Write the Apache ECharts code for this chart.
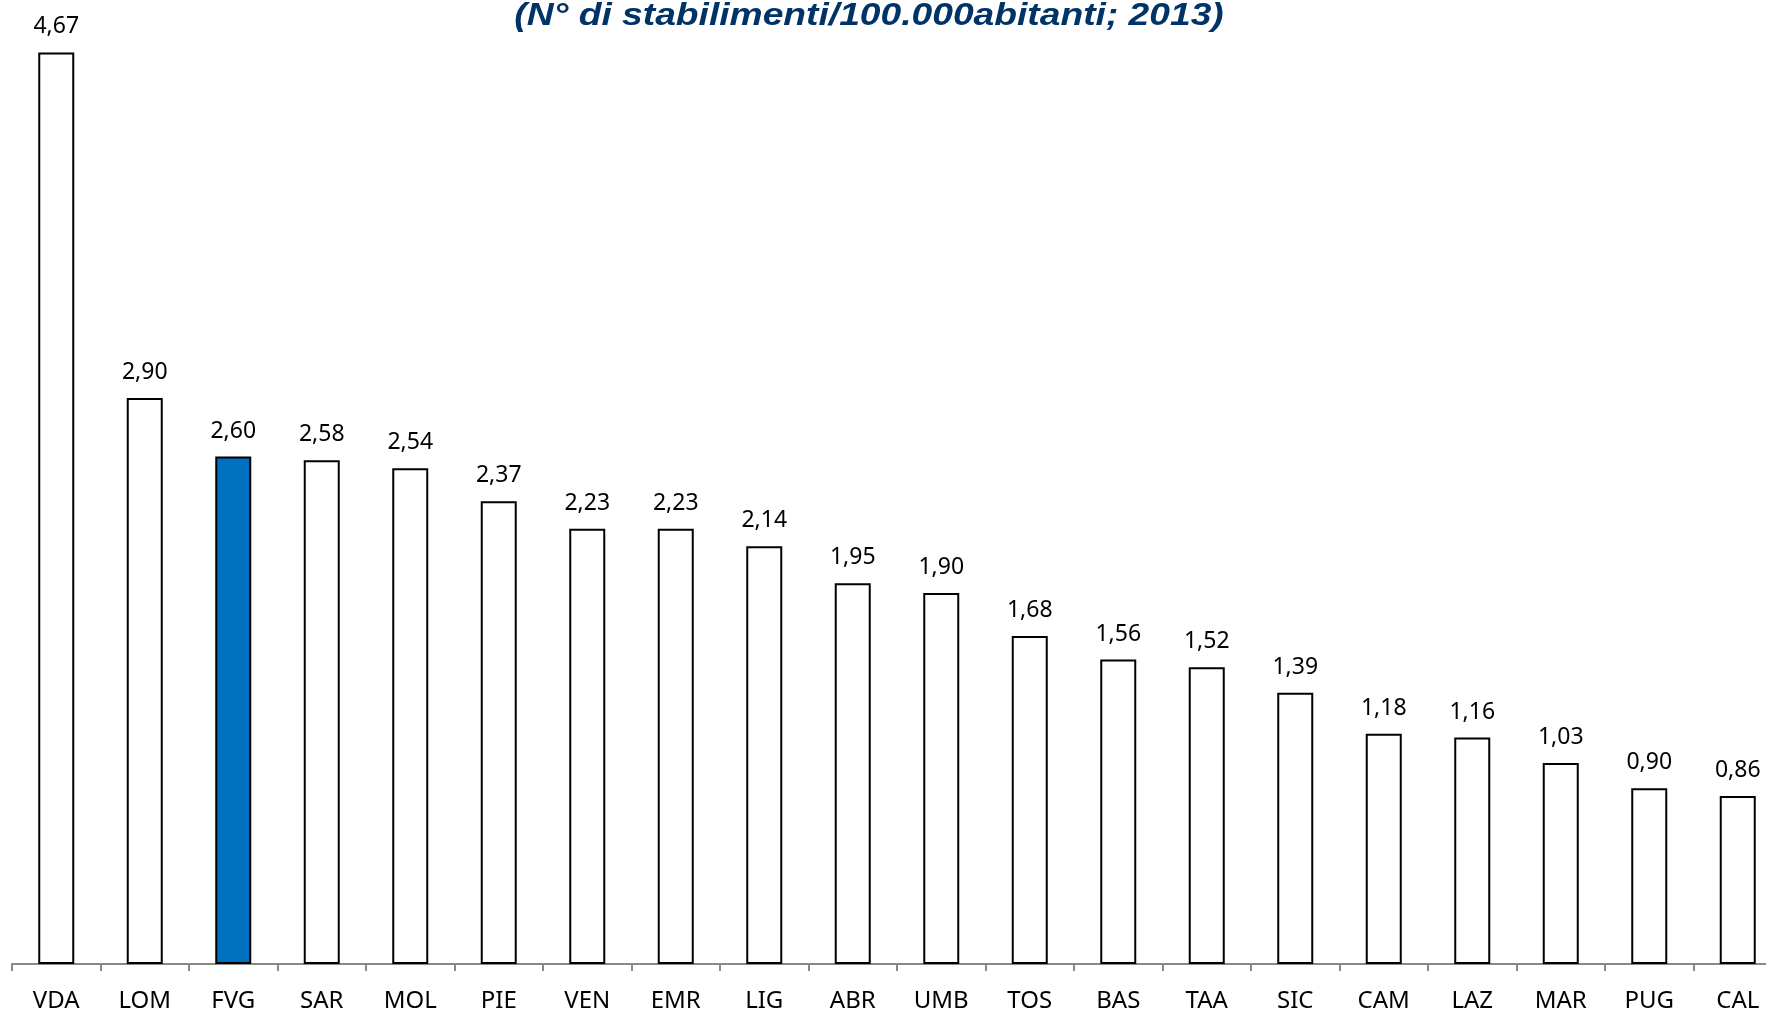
<!DOCTYPE html>
<html>
<head>
<meta charset="utf-8">
<script src="https://cdn.jsdelivr.net/npm/echarts@6/dist/echarts.min.js"></script>
<style>
html,body{margin:0;padding:0;background:#fff;}
#chart{width:1766px;height:1010px;}
</style>
</head>
<body>
<div id="chart"></div>
<script>
var regioni = ['VDA','LOM','FVG','SAR','MOL','PIE','VEN','EMR','LIG','ABR','UMB','TOS','BAS','TAA','SIC','CAM','LAZ','MAR','PUG','CAL'];
var valori = [4.67,2.90,2.60,2.58,2.54,2.37,2.23,2.23,2.14,1.95,1.90,1.68,1.56,1.52,1.39,1.18,1.16,1.03,0.90,0.86];
var evidenziata = 'FVG';
var titolo = '(N° di stabilimenti/100.000abitanti; 2013)';

function init(){
	var dati = [];
	for(var i=0;i<valori.length;i++){
		dati.push({
			value:valori[i],
			itemStyle:{color: regioni[i]==evidenziata ? '#0070C0' : '#fff'}
		});
	}
	var option = {
		animation:false,
		graphic:[{
			type:'text',
			x:869,
			y:16,
			scaleX:1.2,
			style:{
				text:titolo,
				textAlign:'center',
				textVerticalAlign:'middle',
				fill:'#003366',
				font:'italic bold 31px "Liberation Sans"'
			}
		}],
		grid:{left:12,width:1770,top:27,bottom:46,outerBoundsMode:'none'},
		xAxis:{
			type:'category',
			data:regioni,
			axisLine:{lineStyle:{color:'#898989',width:2}},
			axisTick:{show:true,length:7,lineStyle:{color:'#898989',width:2}},
			axisLabel:{color:'#000',fontFamily:'Noto Sans',fontSize:24,margin:25}
		},
		yAxis:{
			type:'value',
			min:0,
			max:4.8,
			show:false,
			splitLine:{show:false}
		},
		series:[{
			type:'bar',
			data:dati,
			barWidth:36,
			itemStyle:{borderColor:'#000',borderWidth:2},
			label:{
				show:true,
				position:'top',
				distance:14,
				color:'#000',
				fontFamily:'Noto Sans',
				fontSize:23,
				formatter:function(p){
					return p.value.toFixed(2).replace('.',',');
				}
			}
		}]
	};
	//初始化echarts实例
	var myChart = echarts.init(document.getElementById('chart'));
	myChart.setOption(option);
}
init();
</script>
</body>
</html>
